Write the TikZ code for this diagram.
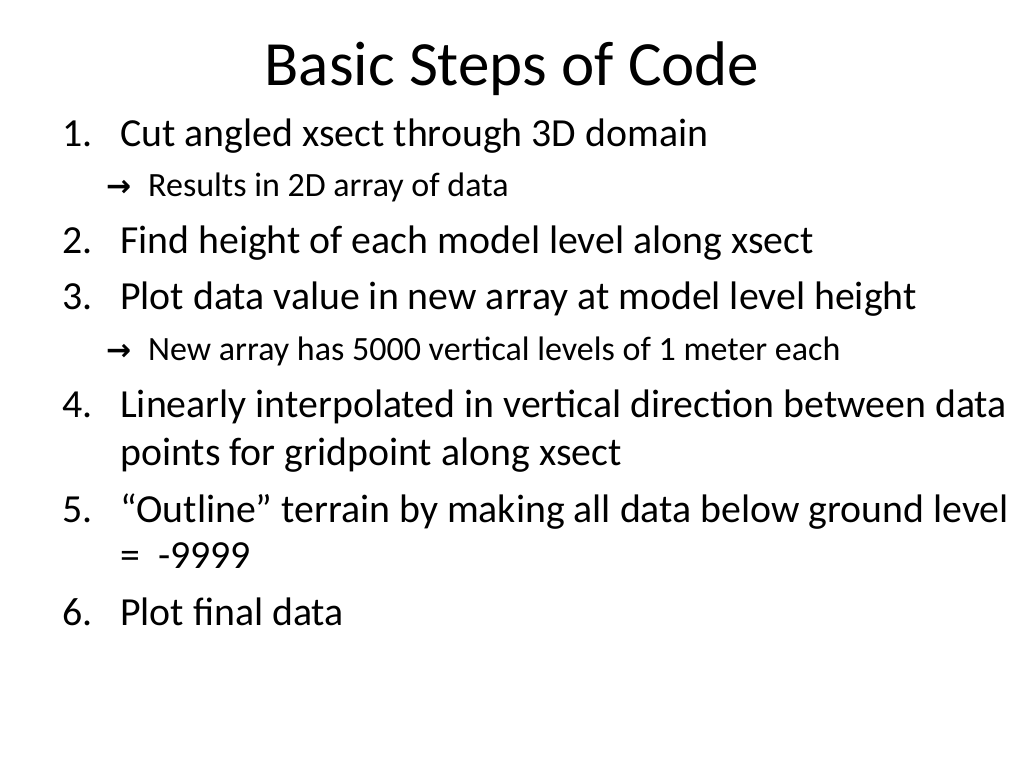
\documentclass[tikz,border=0pt]{standalone}
\usepackage{fontspec}
\setmainfont{Carlito}
\newfontfamily\arrowfont{DejaVu Sans}
\begin{document}
\begin{tikzpicture}[x=1pt,y=-1pt,
  txt/.style={anchor=base west,inner sep=0pt,font=\fontsize{39.8}{44}\selectfont},
  sub/.style={anchor=base west,inner sep=0pt,font=\fontsize{34}{38}\selectfont},
  arr/.style={anchor=base west,inner sep=0pt,font=\fontsize{30}{34}\arrowfont\bfseries}]
\useasboundingbox (0,0) rectangle (1024,768);
\node[anchor=base,inner sep=0pt,font=\fontsize{63}{70}\selectfont] (title) at (512,85) {Basic Steps of Code};
\node[txt] (n1) at (62,146) {1.};
\node[txt] (t1) at (120,146) {Cut angled xsect through 3D domain};
\node[arr] (a1) at (106,196) {→};
\node[sub] (s1) at (148,196) {Results in 2D array of data};
\node[txt] (n2) at (62,253) {2.};
\node[txt] (t2) at (120,253) {Find height of each model level along xsect};
\node[txt] (n3) at (62,309) {3.};
\node[txt] (t3) at (120,309) {Plot data value in new array at model level height};
\node[arr] (a3) at (106,360) {→};
\node[sub] (s3) at (148,360) {New array has 5000 vertical levels of 1 meter each};
\node[txt] (n4) at (62,417) {4.};
\node[txt] (t4) at (120,417) {Linearly interpolated in vertical direction between data};
\node[txt] (t4b) at (120,465) {points for gridpoint along xsect};
\node[txt] (n5) at (62,522) {5.};
\node[txt] (t5) at (120,522) {“Outline” terrain by making all data below ground level};
\node[txt] (t5b) at (120,568) {=\ \ -9999};
\node[txt] (n6) at (62,625) {6.};
\node[txt] (t6) at (120,625) {Plot final data};
\end{tikzpicture}
\end{document}
